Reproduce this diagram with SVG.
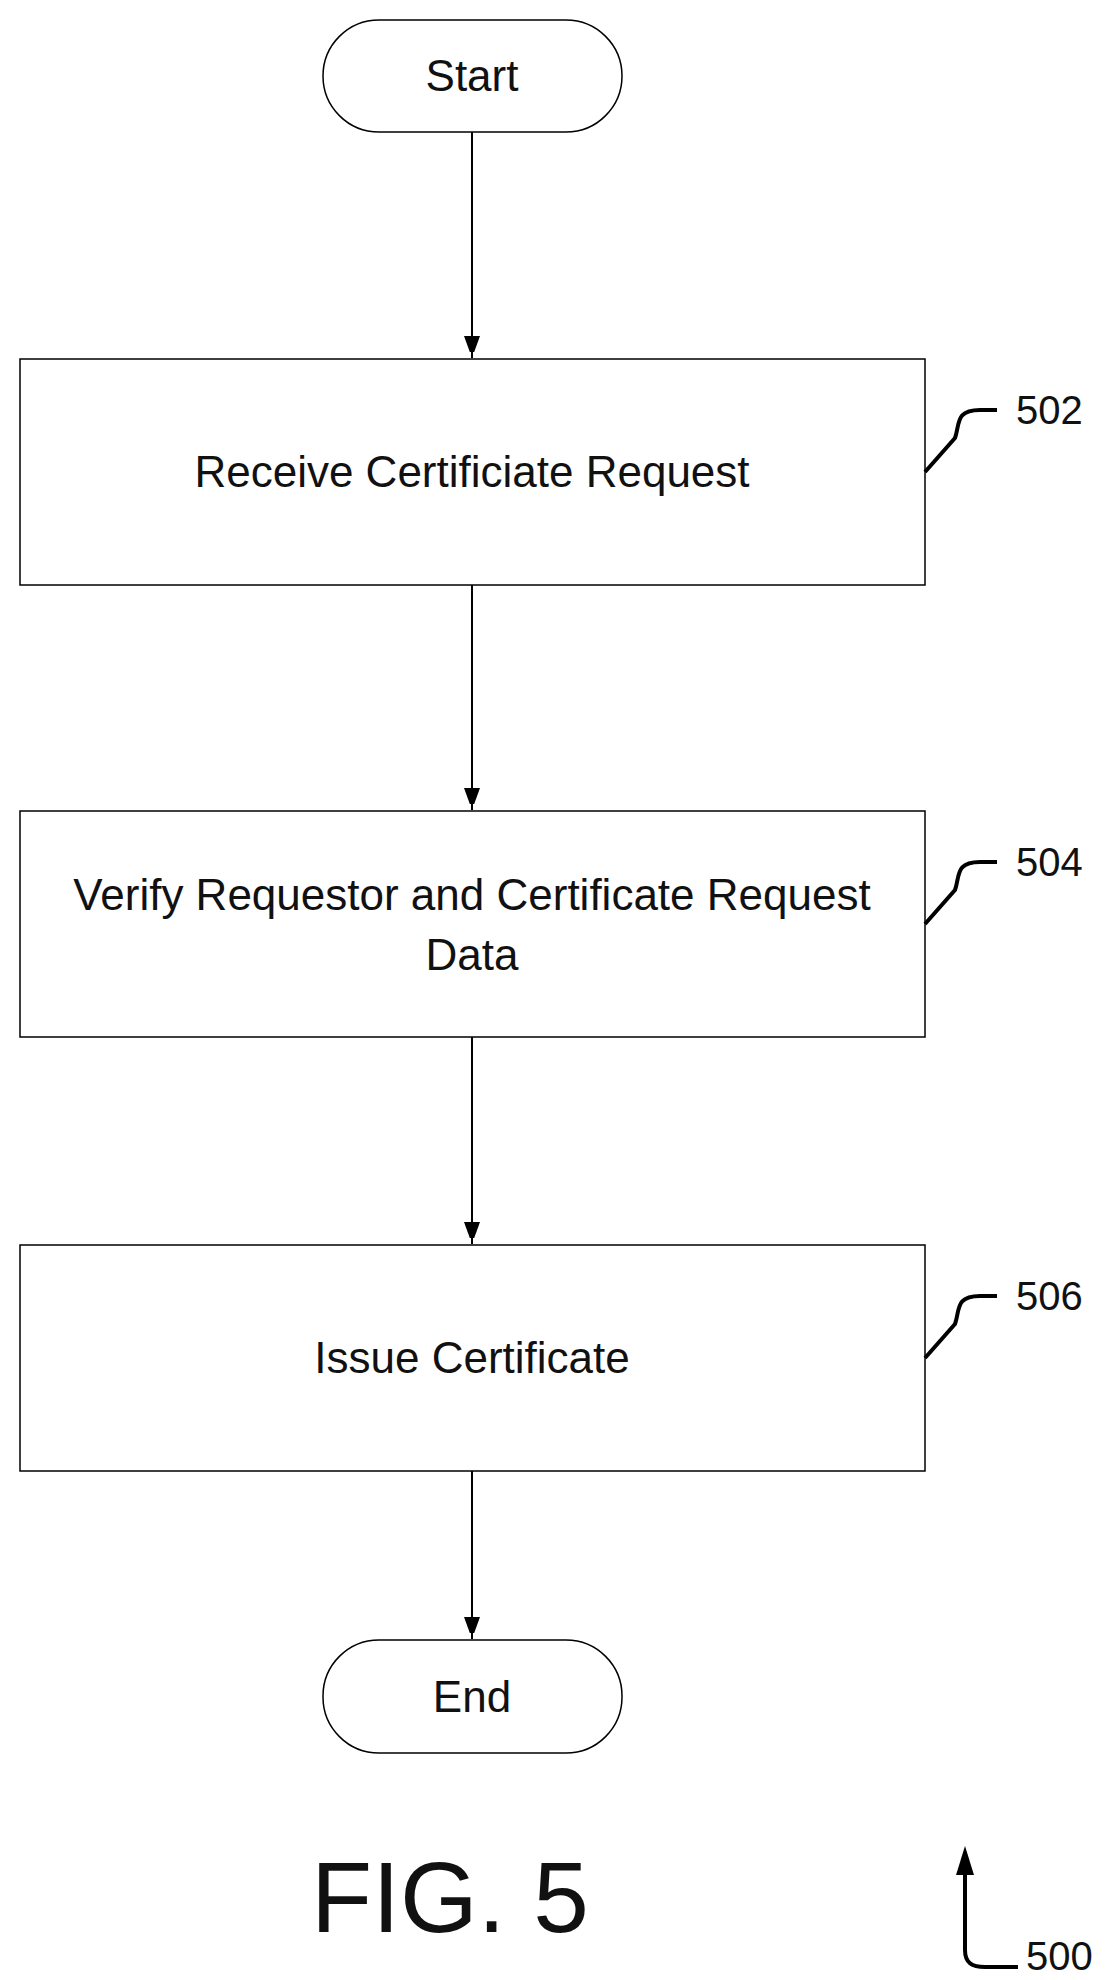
<svg xmlns="http://www.w3.org/2000/svg" width="1118" height="1980" viewBox="0 0 1118 1980">
<style>
.s{fill:#fff;stroke:#000;stroke-width:1.5}
.t{font-family:"Liberation Sans",Arial,sans-serif;font-size:44px;text-anchor:middle;fill:#111}
.r{font-family:"Liberation Sans",Arial,sans-serif;font-size:40px;fill:#111}
.c{stroke:#000;stroke-width:2;fill:none}
.l{stroke:#000;stroke-width:4;fill:none}
</style>
<defs><marker id="a" markerWidth="16" markerHeight="22" refX="22" refY="8" orient="auto" markerUnits="userSpaceOnUse"><path d="M0,0 L22,8 L0,16 Z" fill="#000"/></marker></defs>
<rect width="1118" height="1980" fill="#fff"/>
<g id="connectors">
<line class="c" x1="472" y1="132" x2="472" y2="358" marker-end="url(#a)"/>
<line class="c" x1="472" y1="585" x2="472" y2="810" marker-end="url(#a)"/>
<line class="c" x1="472" y1="1037" x2="472" y2="1244" marker-end="url(#a)"/>
<line class="c" x1="472" y1="1471" x2="472" y2="1639" marker-end="url(#a)"/>
</g>
<g id="start"><rect class="s" x="323" y="20" width="299" height="112" rx="56"/><text class="t" x="472" y="91">Start</text></g>
<g id="n502"><rect class="s" x="20" y="359" width="905" height="226"/><text class="t" x="472" y="487">Receive Certificiate Request</text>
<path class="l" d="M925,472 L955,438 C960,424 955,410 980,410 L997,410"/><text class="r" x="1016" y="424">502</text></g>
<g id="n504"><rect class="s" x="20" y="811" width="905" height="226"/><text class="t" x="472" y="910">Verify Requestor and Certificate Request</text><text class="t" x="472" y="970">Data</text>
<path class="l" d="M925,924 L955,890 C960,876 955,862 980,862 L997,862"/><text class="r" x="1016" y="876">504</text></g>
<g id="n506"><rect class="s" x="20" y="1245" width="905" height="226"/><text class="t" x="472" y="1373">Issue Certificate</text>
<path class="l" d="M925,1358 L955,1324 C960,1310 955,1296 980,1296 L997,1296"/><text class="r" x="1016" y="1310">506</text></g>
<g id="end"><rect class="s" x="323" y="1640" width="299" height="113" rx="56"/><text class="t" x="472" y="1712">End</text></g>
<text x="450" y="1932" style="font-family:'Liberation Sans',Arial,sans-serif;font-size:100px;text-anchor:middle;fill:#111">FIG. 5</text>
<g id="ref500"><path class="l" d="M965,1870 L965,1950 C965,1963 972,1967 985,1967 L1018,1967"/><path d="M956,1875 L965,1846 L974,1875 Z" fill="#000"/><text class="r" x="1026" y="1970">500</text></g>
</svg>
